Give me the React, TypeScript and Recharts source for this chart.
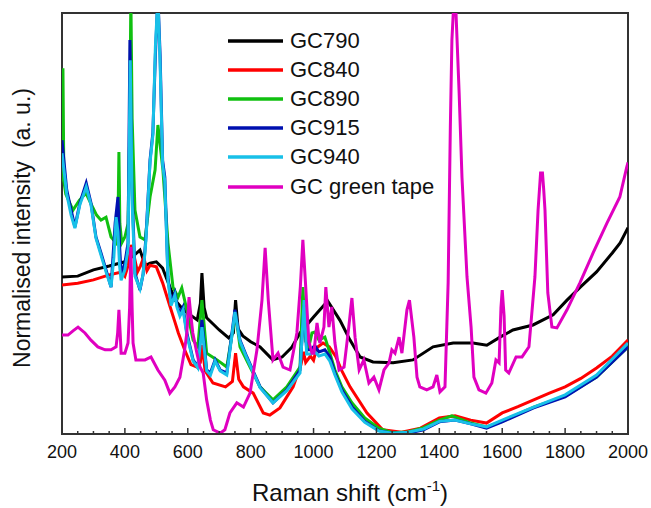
import { Legend, Line, LineChart, ReferenceArea, XAxis, YAxis } from "recharts";

// Raman spectra, wavenumber (cm-1) vs normalised intensity (0 = bottom, 100 = top of frame)
const seriesNames = ["GC790", "GC840", "GC890", "GC915", "GC940", "GC green tape"];
const seriesColors = ["#000000", "#ff0000", "#10c010", "#0010b0", "#18c0e8", "#e000c0"];

const xMajorTicks = [200, 400, 600, 800, 1000, 1200, 1400, 1600, 1800, 2000];
const xTicks = [
  200, 250, 300, 350, 400, 450, 500, 550, 600, 650, 700, 750, 800, 850, 900, 950, 1000,
  1050, 1100, 1150, 1200, 1250, 1300, 1350, 1400, 1450, 1500, 1550, 1600, 1650, 1700,
  1750, 1800, 1850, 1900, 1950, 2000,
];

const gc790: [number, number][] = [
  [200, 37.3], [250, 37.5], [300, 39.0], [350, 39.9], [400, 40.9], [430, 42.5], [448, 43.7],
  [465, 40.0], [480, 40.6], [500, 40.9], [520, 39.4], [540, 35.5], [560, 31.8], [580, 30.0],
  [600, 28.7], [630, 27.1], [640, 31.0], [645, 38.2], [652, 30.0], [660, 27.6], [700, 24.7],
  [730, 22.8], [745, 24.0], [752, 31.8], [760, 25.0], [775, 23.3], [800, 21.9], [830, 20.7],
  [870, 17.6], [900, 18.3], [930, 20.5], [957, 24.0], [1000, 27.8], [1045, 31.6], [1084, 27.0],
  [1116, 22.3], [1148, 18.3], [1189, 17.1], [1253, 16.9], [1316, 17.6], [1380, 20.7],
  [1444, 21.6], [1507, 21.6], [1551, 21.1], [1593, 23.0], [1634, 24.7], [1698, 25.9],
  [1762, 28.3], [1806, 31.8], [1850, 35.0], [1900, 38.5], [1950, 43.0], [1975, 45.4], [2000, 49.0],
];

const gc840: [number, number][] = [
  [200, 35.4], [250, 35.8], [300, 36.6], [350, 37.8], [390, 38.5], [400, 37.5], [410, 40.0],
  [420, 44.9], [430, 42.0], [440, 38.5], [450, 40.0], [460, 42.0], [470, 38.8], [480, 40.1],
  [500, 39.7], [520, 35.9], [540, 31.1], [560, 26.4], [570, 24.0], [590, 20.0], [610, 16.5],
  [630, 15.9], [640, 17.0], [646, 21.1], [655, 15.0], [680, 12.1], [720, 11.2], [742, 12.5],
  [752, 19.2], [762, 13.0], [777, 11.2], [808, 9.7], [840, 5.0], [861, 4.5], [893, 6.2],
  [935, 11.2], [960, 16.5], [968, 19.5], [975, 17.0], [990, 18.5], [1000, 17.5], [1010, 20.5],
  [1030, 21.6], [1050, 20.7], [1070, 18.5], [1090, 15.0], [1116, 11.2], [1170, 5.0],
  [1220, 1.0], [1280, 0.4], [1340, 1.4], [1400, 3.8], [1450, 4.3], [1500, 3.3], [1550, 2.6],
  [1600, 5.0], [1650, 6.5], [1700, 8.1], [1750, 9.7], [1800, 11.2], [1850, 13.2], [1900, 15.7],
  [1950, 18.5], [2000, 22.3],
];

const gc890: [number, number][] = [
  [200, 80.0], [201, 60.0], [203, 86.9], [206, 60.0], [212, 57.0], [235, 53.2], [255, 55.5],
  [276, 57.2], [290, 55.0], [310, 52.0], [324, 50.8], [340, 51.5], [356, 46.8], [372, 45.4],
  [378, 50.0], [381, 67.0], [384, 50.0], [390, 45.4], [400, 46.8], [410, 50.0], [415, 70.0],
  [419, 104], [423, 75.0], [432, 53.2], [448, 46.8], [464, 46.1], [480, 56.3], [496, 62.7],
  [505, 73.4], [513, 68.0], [521, 62.7], [537, 45.4], [553, 34.9], [569, 32.5], [581, 34.7],
  [597, 29.5], [617, 22.3], [632, 20.7], [645, 31.8], [660, 19.2], [693, 17.6], [724, 15.9],
  [752, 28.7], [766, 20.7], [798, 15.9], [830, 11.2], [871, 8.1], [915, 11.2], [957, 15.9],
  [966, 34.9], [975, 22.0], [985, 20.7], [995, 24.0], [1004, 24.2], [1017, 22.3], [1036, 23.0],
  [1052, 19.2], [1068, 15.2], [1090, 11.2], [1122, 7.4], [1163, 3.8], [1208, 1.4], [1250, 0.3],
  [1300, 0.5], [1350, 1.5], [1400, 3.3], [1440, 4.3], [1500, 2.6], [1550, 1.7], [1600, 3.0],
  [1700, 6.4], [1800, 9.0], [1900, 13.5], [2000, 20.7],
];

const gc915: [number, number][] = [
  [200, 69.8], [215, 58.0], [229, 53.2], [241, 49.2], [257, 54.9], [277, 59.6], [292, 54.9],
  [308, 46.8], [324, 43.0], [340, 39.0], [356, 34.9], [369, 50.1], [378, 56.3], [383, 45.0],
  [388, 37.8], [400, 40.6], [410, 45.4], [416, 93.6], [422, 60.0], [432, 38.2], [448, 34.2],
  [458, 38.0], [467, 46.8], [480, 65.1], [489, 71.5], [497, 90.0], [505, 104], [512, 90.0],
  [520, 65.0], [527, 61.0], [537, 37.3], [547, 31.1], [559, 33.5], [566, 30.5], [575, 28.7],
  [585, 30.2], [597, 24.0], [617, 17.6], [632, 15.9], [645, 27.1], [660, 15.2], [672, 14.5],
  [687, 17.6], [703, 15.2], [724, 14.5], [750, 29.5], [766, 22.3], [788, 18.3], [830, 11.2],
  [871, 7.4], [915, 10.5], [957, 15.2], [970, 30.6], [978, 20.0], [990, 20.0], [1004, 21.0],
  [1017, 19.5], [1036, 20.0], [1052, 18.3], [1068, 14.5], [1090, 10.5], [1122, 6.5],
  [1163, 3.0], [1208, 0.8], [1250, 0.2], [1300, 0.2], [1350, 1.0], [1400, 2.9], [1450, 3.3],
  [1500, 2.4], [1550, 1.4], [1600, 2.9], [1700, 6.2], [1800, 8.8], [1900, 13.5], [2000, 20.7],
];

const gc940: [number, number][] = [
  [200, 66.7], [215, 57.0], [229, 52.0], [241, 48.9], [257, 54.5], [277, 58.7], [292, 54.5],
  [308, 46.5], [324, 42.5], [340, 38.5], [356, 34.9], [365, 42.0], [372, 51.5], [378, 48.0],
  [383, 40.0], [388, 36.5], [400, 39.0], [410, 44.0], [417, 88.8], [423, 55.0], [432, 37.5],
  [448, 34.5], [458, 38.0], [467, 46.1], [480, 64.5], [489, 71.0], [497, 92.0], [505, 104],
  [512, 88.0], [520, 64.0], [527, 60.0], [537, 36.5], [547, 30.5], [559, 33.0], [566, 30.0],
  [575, 28.0], [585, 29.5], [597, 23.5], [617, 17.3], [632, 15.7], [645, 25.4], [660, 15.0],
  [672, 14.0], [687, 17.3], [703, 15.0], [724, 14.0], [750, 29.0], [766, 22.0], [788, 18.0],
  [830, 11.0], [871, 7.4], [915, 10.3], [957, 14.5], [970, 31.8], [978, 19.0], [990, 19.0],
  [1004, 19.5], [1017, 18.5], [1036, 19.0], [1052, 17.3], [1068, 14.0], [1090, 10.0],
  [1122, 6.0], [1163, 2.8], [1208, 0.7], [1250, 0.2], [1300, 0.4], [1350, 1.2], [1400, 3.0],
  [1450, 3.3], [1500, 2.4], [1550, 1.7], [1600, 3.3], [1700, 6.4], [1800, 9.3], [1900, 14.0],
  [2000, 21.6],
];

const greenTape: [number, number][] = [
  [200, 23.5], [219, 23.5], [235, 24.5], [251, 25.4], [273, 24.0], [292, 22.3], [314, 20.7],
  [337, 20.0], [356, 20.0], [372, 20.7], [377, 24.0], [381, 29.5], [385, 24.0], [388, 19.2],
  [400, 19.2], [410, 21.6], [415, 30.0], [419, 44.4], [423, 30.0], [426, 21.6], [435, 17.6],
  [464, 17.6], [483, 18.3], [505, 15.2], [527, 12.8], [543, 9.7], [559, 11.2], [575, 13.5],
  [590, 20.0], [597, 24.0], [604, 32.5], [610, 28.0], [616, 24.0], [629, 19.2], [639, 15.9],
  [649, 14.5], [660, 8.1], [672, 3.3], [681, 1.0], [703, 0.2], [718, 1.0], [734, 5.0],
  [756, 7.4], [777, 6.4], [798, 9.7], [820, 20.0], [836, 31.8], [846, 44.2], [856, 31.8],
  [871, 17.6], [887, 19.2], [903, 15.9], [925, 15.2], [947, 24.0], [958, 35.0], [966, 46.1],
  [975, 35.0], [985, 22.0], [995, 19.2], [1001, 19.2], [1011, 26.4], [1020, 21.6], [1033, 25.4],
  [1039, 34.9], [1049, 25.4], [1058, 30.2], [1068, 21.6], [1081, 15.2], [1097, 15.9],
  [1112, 25.4], [1122, 32.3], [1132, 23.0], [1145, 15.2], [1160, 17.6], [1176, 12.1],
  [1192, 13.5], [1208, 10.5], [1224, 15.2], [1240, 16.9], [1249, 20.0], [1259, 19.2],
  [1272, 23.0], [1281, 19.2], [1297, 29.5], [1305, 31.8], [1319, 23.0], [1329, 13.5],
  [1338, 11.2], [1360, 10.5], [1380, 11.2], [1392, 14.0], [1402, 10.0], [1418, 11.2],
  [1428, 35.9], [1435, 72.9], [1440, 93.6], [1447, 104], [1453, 100], [1463, 81.0],
  [1472, 61.0], [1488, 37.3], [1501, 25.4], [1510, 13.5], [1526, 10.5], [1548, 9.7],
  [1567, 12.1], [1580, 17.6], [1590, 16.9], [1596, 30.0], [1600, 34.2], [1606, 28.0],
  [1611, 15.2], [1621, 14.5], [1644, 18.3], [1663, 18.3], [1685, 20.7], [1704, 37.3],
  [1714, 53.2], [1722, 62.0], [1728, 62.0], [1732, 58.0], [1736, 53.2], [1745, 33.5],
  [1758, 25.4], [1774, 25.2], [1806, 29.5], [1847, 35.9], [1889, 43.0], [1933, 50.1],
  [1974, 56.3], [1996, 63.4], [2000, 64.5],
];

const seriesData = [gc790, gc840, gc890, gc915, gc940, greenTape];

const font = "'Liberation Sans', Arial, sans-serif";

function XTick(props: any) {
  const { x, y, payload } = props;
  const major = xMajorTicks.includes(payload.value);
  return (
    <g>
      <line x1={x} x2={x} y1={y} y2={y - (major ? 6 : 3)} stroke="#333" strokeWidth={1.5} />
      {major && (
        <text x={x} y={y + 24} textAnchor="middle" fontSize={18} fill="#111" fontFamily={font}>
          {payload.value}
        </text>
      )}
    </g>
  );
}

function AxisTitles() {
  return (
    <g fontFamily={font} fill="#111">
      <text x={350} y={501} textAnchor="middle" fontSize={24}>
        Raman shift (cm
        <tspan dy={-10} fontSize={15}>-1</tspan>
        <tspan dy={10}>)</tspan>
      </text>
      <text
        x={30}
        y={228}
        textAnchor="middle"
        fontSize={23}
        transform="rotate(-90 30 228)"
        style={{ whiteSpace: "pre" }}
      >
        Normalised intensity  (a. u.)
      </text>
    </g>
  );
}

function SeriesLegend() {
  return (
    <div style={{ fontFamily: font, fontSize: 22, color: "#111" }}>
      {seriesNames.map((name, i) => (
        <div key={name} style={{ display: "flex", alignItems: "center", height: 29.2 }}>
          <svg width={55} height={6} style={{ marginRight: 7 }}>
            <line x1={0} x2={55} y1={3} y2={3} stroke={seriesColors[i]} strokeWidth={3.5} />
          </svg>
          <span>{name}</span>
        </div>
      ))}
    </div>
  );
}

export default function App() {
  return (
    <div style={{ position: "absolute", left: 0, top: 0, background: "#fff" }}>
      <LineChart width={651} height={508} margin={{ top: 13, right: 23, left: 62, bottom: 0 }}>
        <XAxis
          dataKey="x"
          type="number"
          domain={[200, 2000]}
          ticks={xTicks}
          interval={0}
          tickSize={0}
          tickMargin={0}
          tickLine={false}
          tick={<XTick />}
          height={74}
          axisLine={{ stroke: "#333", strokeWidth: 2 }}
          allowDataOverflow
          label={{ content: () => <AxisTitles /> }}
        />
        <YAxis type="number" domain={[0, 100]} hide allowDataOverflow />
        <ReferenceArea
          x1={200}
          x2={2000}
          y1={0}
          y2={100}
          fill="none"
          stroke="#333"
          strokeWidth={2}
          ifOverflow="visible"
        />
        {seriesData.map((points, i) => (
          <Line
            key={seriesNames[i]}
            name={seriesNames[i]}
            data={points.map(([x, y]) => ({ x, y }))}
            dataKey="y"
            type="linear"
            dot={false}
            stroke={seriesColors[i]}
            strokeWidth={3}
            isAnimationActive={false}
          />
        ))}
        <Legend
          layout="vertical"
          verticalAlign="middle"
          align="center"
          content={() => <SeriesLegend />}
          wrapperStyle={{ position: "absolute", left: 228, top: 26, width: "auto" }}
        />
      </LineChart>
    </div>
  );
}
